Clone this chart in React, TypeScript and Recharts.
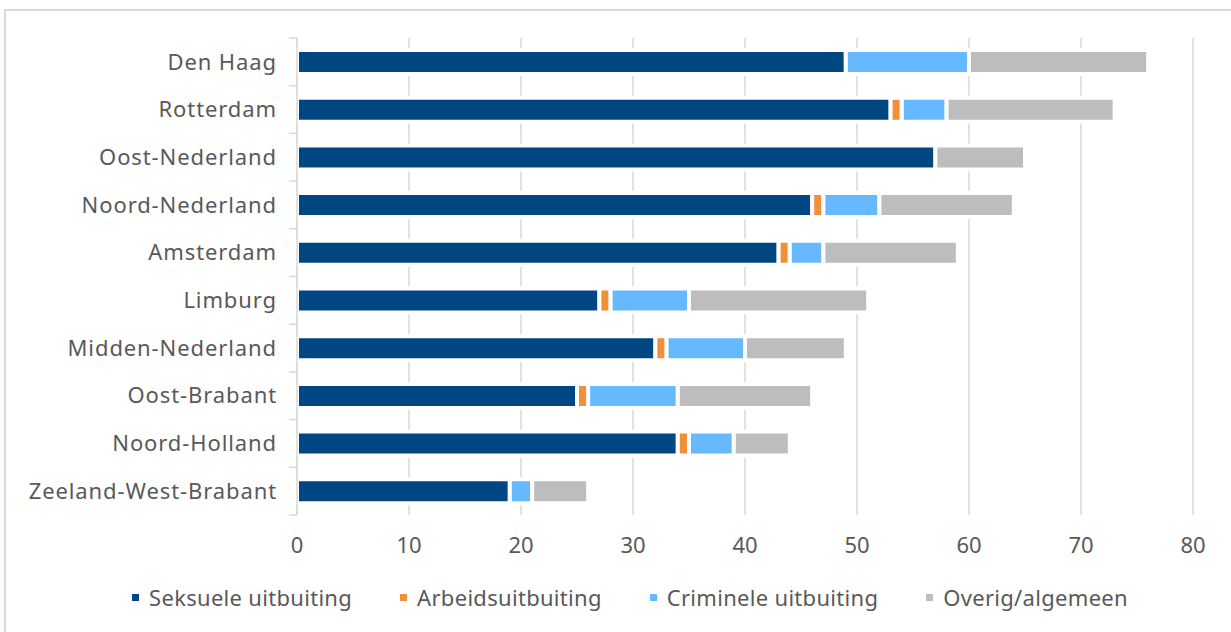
import React from 'react';
import { BarChart, Bar, XAxis, YAxis, CartesianGrid, Legend } from 'recharts';

const categories = [
  'Den Haag',
  'Rotterdam',
  'Oost-Nederland',
  'Noord-Nederland',
  'Amsterdam',
  'Limburg',
  'Midden-Nederland',
  'Oost-Brabant',
  'Noord-Holland',
  'Zeeland-West-Brabant',
];
const seksueel = [49, 53, 57, 46, 43, 27, 32, 25, 34, 19];
const arbeid = [0, 1, 0, 1, 1, 1, 1, 1, 1, 0];
const crimineel = [11, 4, 0, 5, 3, 7, 7, 8, 4, 2];
const overig = [16, 15, 8, 12, 12, 16, 9, 12, 5, 5];
const xTicks = [0, 10, 20, 30, 40, 50, 60, 70, 80];

const seriesNames = ['Seksuele uitbuiting', 'Arbeidsuitbuiting', 'Criminele uitbuiting', 'Overig/algemeen'];
const colors = ['#004682', '#F0913A', '#66B8FF', '#BDBDC0'];

const data = categories.map((c, i) => ({
  name: c,
  s: seksueel[i],
  a: arbeid[i],
  c: crimineel[i],
  o: overig[i],
}));

const FONT = '"Noto Sans", "Open Sans", sans-serif';
const TEXT = '#595959';
const GRID = '#D9D9D9';

const W = 1231;
const H = 632;
const M = { top: 38, right: 38, bottom: 20, left: 0 };
const YW = 297;
const PLOT_BOTTOM = 515;
const BAND = (PLOT_BOTTOM - M.top) / categories.length;

const YTick = (props: any) => {
  const { x, y, payload, index } = props;
  const axisX = YW;
  return (
    <g>
      <line x1={axisX - 8} x2={axisX} y1={y - BAND / 2} y2={y - BAND / 2} stroke={GRID} strokeWidth={1.5} />
      {index === categories.length - 1 && (
        <line x1={axisX - 8} x2={axisX} y1={y + BAND / 2} y2={y + BAND / 2} stroke={GRID} strokeWidth={1.5} />
      )}
      <text
        x={x}
        y={y}
        dy="0.35em"
        textAnchor="end"
        fill={TEXT}
        fontSize={22}
        fontFamily={FONT}
        letterSpacing={0.9}
      >
        {payload.value}
      </text>
    </g>
  );
};

const LegendContent = () => (
  <div
    style={{
      display: 'flex',
      justifyContent: 'center',
      alignItems: 'center',
      fontFamily: FONT,
      fontSize: 22,
      letterSpacing: 0.3,
      color: TEXT,
      height: 30,
      paddingLeft: 67,
      boxSizing: 'border-box',
    }}
  >
    {seriesNames.map((n, i) => (
      <div key={n} style={{ display: 'flex', alignItems: 'center', marginRight: i < 3 ? 48 : 0 }}>
        <span style={{ display: 'inline-block', width: 7, height: 7, background: colors[i], marginRight: 10 }} />
        <span>{n}</span>
      </div>
    ))}
  </div>
);

export default function App() {
  const xAxisHeight = H - M.bottom - 30 - PLOT_BOTTOM;
  return (
    <div style={{ position: 'absolute', left: 0, top: 0, width: W, height: H, overflow: 'hidden', background: '#fff' }}>
      <div
        style={{
          position: 'absolute',
          left: 4,
          top: 9,
          width: W + 20,
          height: H + 20,
          border: '2px solid #D9D9D9',
          boxSizing: 'border-box',
        }}
      />
      <div style={{ position: 'absolute', left: 0, top: 0 }}>
        <BarChart width={W} height={H} data={data} layout="vertical" margin={M} barSize={24}>
          <CartesianGrid horizontal={false} vertical={true} stroke={GRID} strokeWidth={1.5} />
          <XAxis
            type="number"
            domain={[0, 80]}
            ticks={xTicks}
            axisLine={false}
            tickLine={false}
            height={xAxisHeight}
            tickMargin={16}
            tick={{ fill: TEXT, fontSize: 22, fontFamily: FONT }}
          />
          <YAxis
            type="category"
            dataKey="name"
            width={YW}
            axisLine={{ stroke: GRID, strokeWidth: 1.5 }}
            tickLine={false}
            tickSize={0}
            tickMargin={20}
            interval={0}
            tick={<YTick />}
          />
          <Legend verticalAlign="bottom" height={30} content={<LegendContent />} />
          <Bar dataKey="s" name={seriesNames[0]} stackId="x" fill={colors[0]} stroke="#fff" strokeWidth={4} isAnimationActive={false} />
          <Bar dataKey="a" name={seriesNames[1]} stackId="x" fill={colors[1]} stroke="#fff" strokeWidth={4} isAnimationActive={false} />
          <Bar dataKey="c" name={seriesNames[2]} stackId="x" fill={colors[2]} stroke="#fff" strokeWidth={4} isAnimationActive={false} />
          <Bar dataKey="o" name={seriesNames[3]} stackId="x" fill={colors[3]} stroke="#fff" strokeWidth={4} isAnimationActive={false} />
        </BarChart>
      </div>
    </div>
  );
}
